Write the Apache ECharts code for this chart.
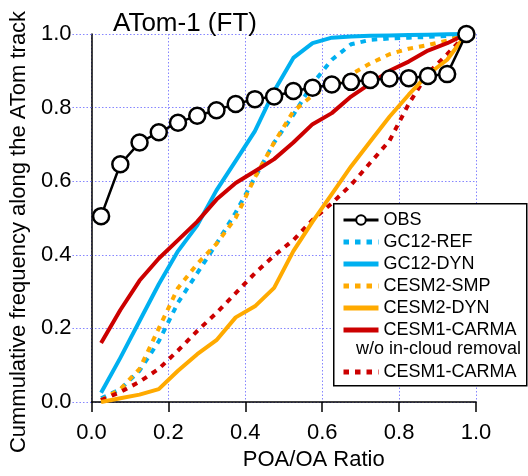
<!DOCTYPE html>
<html>
<head>
<meta charset="utf-8">
<script src="https://cdn.jsdelivr.net/npm/echarts@6/dist/echarts.min.js"></script>
<style>html,body{margin:0;padding:0;background:#fff;}#c{width:528px;height:476px;}</style>
</head>
<body>
<div id="c"></div>
<script>
var xBins = [0.025,0.075,0.125,0.175,0.225,0.275,0.325,0.375,0.425,0.475,0.525,0.575,0.625,0.675,0.725,0.775,0.825,0.875,0.925,0.975];
var obs = [0.505,0.646,0.705,0.733,0.759,0.778,0.793,0.810,0.823,0.830,0.845,0.854,0.863,0.870,0.875,0.879,0.880,0.886,0.891,1.0];
var gc12Ref = [0.01,0.035,0.085,0.165,0.27,0.35,0.43,0.515,0.61,0.705,0.78,0.865,0.93,0.972,0.984,0.988,0.99,0.992,0.995,1.0];
var gc12Dyn = [0.025,0.12,0.22,0.32,0.41,0.48,0.575,0.655,0.736,0.845,0.935,0.975,0.99,0.993,0.995,0.996,0.997,0.998,0.999,1.0];
var cesm2Smp = [0.005,0.035,0.09,0.2,0.31,0.375,0.43,0.5,0.61,0.705,0.79,0.833,0.86,0.89,0.92,0.945,0.96,0.97,0.982,1.0];
var cesm2Dyn = [0.0,0.01,0.02,0.035,0.085,0.13,0.168,0.23,0.26,0.31,0.41,0.49,0.565,0.64,0.708,0.775,0.835,0.89,0.93,1.0];
var cesm1Carma = [0.16,0.25,0.33,0.39,0.44,0.49,0.55,0.595,0.627,0.66,0.705,0.755,0.785,0.83,0.865,0.9,0.925,0.955,0.975,1.0];
var cesm1CarmaNoRem = [0.005,0.027,0.055,0.09,0.14,0.193,0.242,0.296,0.35,0.398,0.44,0.495,0.54,0.59,0.65,0.71,0.81,0.893,0.945,1.0];

var FONT = 'Liberation Sans, Arial, Helvetica, sans-serif';
var CYAN = '#00B0F0', ORANGE = '#FFAA00', RED = '#CC0000';
var GRID = '#8585ff';
function pairs(ys){ return xBins.map(function(x,i){ return [x, ys[i]]; }); }
function lineSeries(name, ys, color, dotted, z){
  return {
    name: name, type: 'line', data: pairs(ys), symbol: 'none', z: z,
    lineStyle: { color: color, width: 4, type: dotted ? [5.5, 6] : 'solid', cap: 'butt', join: 'round' },
    itemStyle: { color: color }
  };
}
function legItem(name, color, dotted){
  return { name: name, itemStyle: { opacity: 0 },
    lineStyle: { color: color, width: 5, type: dotted ? [5.5, 6] : 'solid', cap: 'butt' } };
}
var chart = echarts.init(document.getElementById('c'), null, {renderer: 'canvas'});
chart.setOption({
  animation: false,
  backgroundColor: '#fff',
  title: { text: 'ATom-1 (FT)', left: 108, top: 6, textStyle: { fontFamily: FONT, fontSize: 26, fontWeight: 'normal', color: '#000' } },
  grid: { left: 91, right: 52, top: 34, bottom: 74, containLabel: false },
  xAxis: {
    type: 'value', min: 0, max: 1, interval: 0.2,
    name: 'POA/OA Ratio', nameLocation: 'middle', nameGap: 44,
    nameTextStyle: { fontFamily: FONT, fontSize: 22, color: '#000', padding: [0,0,0,60] },
    axisLine: { show: true, onZero: false, lineStyle: { color: '#000', width: 1.5 } },
    axisTick: { show: true, inside: false, length: 10, lineStyle: { color: '#000', width: 1.5 } },
    axisLabel: { fontFamily: FONT, fontSize: 22, color: '#000', margin: 20, formatter: function(v){ return v.toFixed(1); } },
    splitLine: { show: true, lineStyle: { color: GRID, width: 1, type: [1.5, 2] } }
  },
  yAxis: {
    type: 'value', min: 0, max: 1, interval: 0.2,
    name: 'Cummulative frequency along the ATom track', nameLocation: 'middle', nameGap: 54, nameRotate: 90,
    nameTextStyle: { fontFamily: FONT, fontSize: 22, color: '#000', padding: [0,28,0,0] },
    axisLine: { show: true, onZero: false, lineStyle: { color: '#000', width: 1.5 } },
    axisTick: { show: true, inside: false, length: 19, lineStyle: { color: GRID, width: 1, type: [1.5, 2] } },
    axisLabel: { fontFamily: FONT, fontSize: 22, color: '#000', margin: 20, formatter: function(v){ return v.toFixed(1); } },
    splitLine: { show: true, lineStyle: { color: GRID, width: 1, type: [1.5, 2] } }
  },
  legend: [{
    orient: 'vertical', left: 336, top: 206, itemWidth: 35, itemHeight: 12, itemGap: 4, z: 20,
    textStyle: { fontFamily: FONT, fontSize: 18, color: '#000' },
    data: [
      { name: 'OBS', lineStyle: { color: '#000', width: 3 } },
      legItem('GC12-REF', CYAN, true), legItem('GC12-DYN', CYAN, false),
      legItem('CESM2-SMP', ORANGE, true), legItem('CESM2-DYN', ORANGE, false),
      legItem('CESM1-CARMA', RED, false)
    ]
  }, {
    orient: 'vertical', left: 336, top: 358, itemWidth: 35, itemHeight: 12, z: 20,
    textStyle: { fontFamily: FONT, fontSize: 18, color: '#000' },
    formatter: function(){ return 'CESM1-CARMA'; },
    data: [legItem('CESM1-CARMA (w/o in-cloud removal)', RED, true)]
  }],
  graphic: [
    { type: 'rect', left: 333, top: 203, z: 15, shape: { width: 193, height: 182 }, style: { fill: '#fff', stroke: '#000', lineWidth: 1.5 } },
    { type: 'text', left: 356, top: 340, z: 21, style: { text: 'w/o in-cloud removal', fontFamily: FONT, fontSize: 18, fill: '#000' } }
  ],
  series: [
    lineSeries('GC12-REF', gc12Ref, CYAN, true, 3),
    lineSeries('CESM2-SMP', cesm2Smp, ORANGE, true, 3),
    lineSeries('CESM1-CARMA (w/o in-cloud removal)', cesm1CarmaNoRem, RED, true, 3),
    lineSeries('CESM2-DYN', cesm2Dyn, ORANGE, false, 4),
    lineSeries('GC12-DYN', gc12Dyn, CYAN, false, 4),
    lineSeries('CESM1-CARMA', cesm1Carma, RED, false, 4),
    {
      name: 'OBS', type: 'line', data: pairs(obs), z: 10,
      symbol: 'circle', symbolSize: 16, showSymbol: true,
      lineStyle: { color: '#000', width: 2.5 },
      itemStyle: { color: '#fff', borderColor: '#000', borderWidth: 2.5 }
    }
  ]
});
</script>
</body>
</html>
